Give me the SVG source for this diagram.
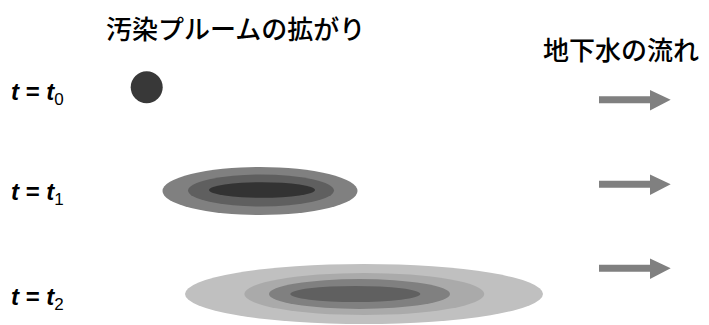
<svg xmlns="http://www.w3.org/2000/svg" width="709" height="325" viewBox="0 0 709 325">
<style>
.ja{font-family:"Noto Sans CJK JP","Noto Sans CJK SC",sans-serif;font-size:26px;font-weight:500;fill:#000}
.lbl{font-family:"Liberation Sans",Arial,sans-serif;font-size:24px;font-weight:bold;fill:#000}
.it{font-style:italic}
.sub{font-size:17px;font-weight:normal}
.arrow{fill:#808080}
</style>
<rect width="709" height="325" fill="#fff"/>
<g id="title-plume"><text class="ja" x="106" y="39">汚染プルームの拡がり</text></g>
<g id="title-flow"><text class="ja" x="543" y="60">地下水の流れ</text></g>

<g id="label-t0"><text class="lbl" x="11" y="100"><tspan class="it">t</tspan> = <tspan class="it">t</tspan><tspan class="sub" dy="5">0</tspan></text></g>
<g id="label-t1"><text class="lbl" x="11" y="200"><tspan class="it">t</tspan> = <tspan class="it">t</tspan><tspan class="sub" dy="5">1</tspan></text></g>
<g id="label-t2"><text class="lbl" x="11" y="305"><tspan class="it">t</tspan> = <tspan class="it">t</tspan><tspan class="sub" dy="5">2</tspan></text></g>

<g id="plume-t0"><circle cx="146.7" cy="87.3" r="16" fill="#383838"/></g>

<g id="plume-t1">
<ellipse cx="260" cy="191" rx="97.5" ry="24" fill="#808080"/>
<ellipse cx="261" cy="190.5" rx="73" ry="16" fill="#5f5f5f"/>
<ellipse cx="262" cy="190" rx="53" ry="7.8" fill="#333"/>
</g>

<g id="plume-t2">
<ellipse cx="364" cy="294" rx="179" ry="30" fill="#c0c0c0"/>
<ellipse cx="364.3" cy="294" rx="120" ry="21" fill="#aaaaaa"/>
<ellipse cx="359.5" cy="294" rx="90.5" ry="15" fill="#808080"/>
<ellipse cx="355.3" cy="294" rx="65" ry="8" fill="#606060"/>
</g>

<g id="flow-arrows">
<polygon class="arrow" points="599,96.2 650,96.2 650,90 670.7,99.7 650,110.4 650,103.2 599,103.2"/>
<polygon class="arrow" points="599,180.8 650,180.8 650,174.6 670.7,184.3 650,195 650,187.8 599,187.8"/>
<polygon class="arrow" points="599,264.8 650,264.8 650,258.6 670.7,268.3 650,279 650,271.8 599,271.8"/>
</g>
</svg>
